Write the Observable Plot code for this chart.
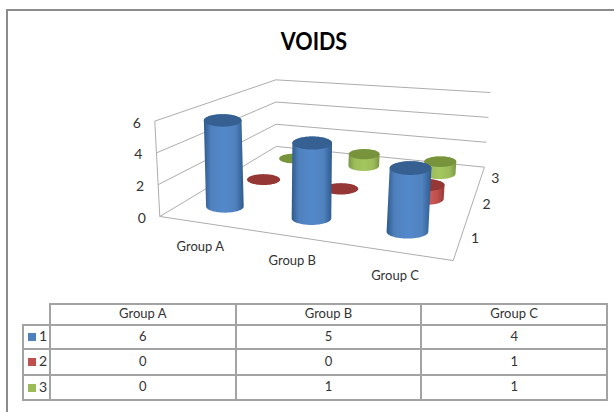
<!DOCTYPE html>
<html>
<head>
<meta charset="utf-8">
<script src="https://cdn.jsdelivr.net/npm/d3@7"></script>
<script src="https://cdn.jsdelivr.net/npm/@observablehq/plot@0.6"></script>
<style>
  html, body { margin: 0; background: #fff; overflow: hidden; }
  #page { position: relative; width: 614px; height: 412px; font-family: Lato, sans-serif; color: #333; }
  #frame { position: absolute; left: 6px; top: 9px; right: -4px; bottom: -4px; border: 2px solid #8c8c8c; }
  #title { position: absolute; left: 0; top: 25px; width: 628px; text-align: center; font-size: 25px; line-height: 30px; font-weight: 700; color: #000; transform: scaleX(0.86); transform-origin: 314px 0; }
  #plot { position: absolute; left: 0; top: 60px; }
  #data { position: absolute; left: 22px; top: 303px; width: 586px; border-collapse: collapse; table-layout: fixed; font-size: 13px; }
  #data td, #data th { border: 2px solid #a3a3a3; padding: 0 0 3px 0; box-sizing: border-box; text-align: center; font-weight: 400; }
  #data tr:nth-child(2) > * { height: 20px; }
  #data tr:nth-child(3) > * { height: 24px; }
  #data tr:nth-child(4) > * { height: 26px; }
  #data tr:nth-child(5) > * { height: 25px; }
  #data th.corner { border-left: none; border-top: none; }
  #data td.key { font-size: 14px; text-align: left; padding-left: 4px; white-space: nowrap; }
  #data .swatch { display: inline-block; width: 8px; height: 8px; margin-right: 3px; }
  #data col.first { width: 27px; }
</style>
</head>
<body>
<div id="page">
  <div id="frame"></div>
  <div id="title">VOIDS</div>
  <div id="plot"></div>
  <table id="data"></table>
</div>
<script>
// Chart values
const title = "VOIDS";
const groups = ["Group A", "Group B", "Group C"];
const seriesNames = ["1", "2", "3"];
const series1 = [6, 5, 4];
const series2 = [0, 0, 1];
const series3 = [0, 1, 1];
const valueTicks = [0, 2, 4, 6];
const allSeries = [series1, series2, series3];

// Series colours: side highlight, side shadow, top cap
const palette = [
  {key: "#4f81bd", light: "#5389cb", dark: "#2e5a8e", top: "#376092"},
  {key: "#c0504d", light: "#d0605c", dark: "#963b39", top: "#953735"},
  {key: "#9bbb59", light: "#a4c760", dark: "#7a9645", top: "#77933c"}
];

// Perspective box: u runs along the groups, v runs back through the series, value goes up
const H = {a: 223.7, b: 235.5, c: 159.3, d: 4, e: -7, f: 216, g: -0.154, h: 0.432};
const wallUnit = 15.9;
const columnUnit = 15;
const columnShift = -1;
const radius = 19.7;
const squash = 0.33;
const maxValue = 6;

const uOf = (i) => (i + 0.5) / groups.length;
const vOf = (j) => (j + 0.5) / seriesNames.length;
const depthScale = (u, v) => 1 / (H.g * u + H.h * v + 1);

function project(u, v, value, unit = wallUnit) {
  const w = depthScale(u, v);
  const x0 = (H.a * u + H.b * v + H.c) * w;
  const y0 = (H.d * u + H.e * v + H.f) * w;
  const rise = value * unit * w;
  const lean = (x0 - 288) * 0.000408;
  return {x: x0 + rise * lean, y: y0 - rise};
}

// Outlines for one cylinder: the side wall and the top cap
function cylinder(i, j, value) {
  const u = uOf(i), v = vOf(j), w = depthScale(u, v);
  const rx = radius * w, ry = rx * squash;
  const base = project(u, v, 0), cap = project(u, v, value, columnUnit);
  const n = 48;
  const side = [], top = [];
  for (let k = 0; k <= n; ++k) {
    const t = Math.PI * k / n;
    side.push({x: base.x + columnShift - rx * Math.cos(t), y: base.y + ry * Math.sin(t)});
  }
  for (let k = 0; k <= n; ++k) {
    const t = Math.PI * k / n;
    side.push({x: cap.x + columnShift + rx * Math.cos(t), y: cap.y - ry * Math.sin(t)});
  }
  for (let k = 0; k <= 2 * n; ++k) {
    const t = Math.PI * k / n;
    top.push({x: cap.x + columnShift + rx * Math.cos(t), y: cap.y + ry * Math.sin(t)});
  }
  return {side, top};
}

// Horizontal shading that makes the side walls look round
const gradients = () => {
  const ns = "http://www.w3.org/2000/svg";
  const defs = document.createElementNS(ns, "defs");
  palette.forEach((c, j) => {
    const g = document.createElementNS(ns, "linearGradient");
    g.setAttribute("id", `side${j}`);
    [[0, c.dark], [0.18, c.key], [0.5, c.light], [0.8, c.key], [1, c.dark]].forEach(([o, col]) => {
      const s = document.createElementNS(ns, "stop");
      s.setAttribute("offset", o);
      s.setAttribute("stop-color", col);
      g.appendChild(s);
    });
    defs.appendChild(g);
  });
  return defs;
};

// Walls and floor
const link = (a, b) => ({x1: a.x, y1: a.y, x2: b.x, y2: b.y});
const frameLinks = [
  link(project(0, 0, 0), project(1, 0, 0)),
  link(project(1, 0, 0), project(1, 1, 0)),
  link(project(0, 0, 0), project(0, 0, maxValue))
];
for (const t of valueTicks) {
  frameLinks.push(link(project(0, 0, t), project(0, 1, t)));
  frameLinks.push(link(project(0, 1, t), project(1, 1, t)));
}

// Columns, painted from the back row to the front row
const columns = [];
for (let j = seriesNames.length - 1; j >= 0; --j) {
  groups.forEach((_, i) => {
    const value = allSeries[j][i];
    const {side, top} = cylinder(i, j, value);
    if (value > 0) {
      columns.push(Plot.line(side, {x: "x", y: "y", stroke: "none", fill: `url(#side${j})`}));
    }
    columns.push(Plot.line(top, {x: "x", y: "y", stroke: "none", fill: palette[j].top}));
  });
}

const chart = Plot.plot({
  width: 614,
  height: 240,
  margin: 0,
  x: {domain: [0, 614], range: [0, 614], axis: null},
  y: {domain: [60, 300], range: [0, 240], axis: null},
  style: {fontFamily: "Lato, sans-serif", background: "transparent"},
  marks: [
    gradients,
    Plot.link(frameLinks, {x1: "x1", y1: "y1", x2: "x2", y2: "y2", stroke: "#adadad", strokeWidth: 1}),
    ...columns,
    Plot.text(valueTicks, {
      x: (t) => project(0, 0, t).x, y: (t) => project(0, 0, t).y, text: (t) => `${t}`,
      textAnchor: "end", dx: -14, dy: 2, fontSize: 14, fill: "#333"
    }),
    Plot.text(groups, {
      x: (_, i) => project(uOf(i), 0, 0).x, y: (_, i) => project(uOf(i), 0, 0).y, text: (d) => d,
      dx: -2, dy: 24, fontSize: 13, fill: "#333"
    }),
    Plot.text(seriesNames, {
      x: (_, j) => project(1, vOf(j), 0).x, y: (_, j) => project(1, vOf(j), 0).y, text: (d) => d,
      dx: 14.5, dy: 0, fontSize: 14, fill: "#333"
    })
  ]
});
document.getElementById("plot").appendChild(chart);
document.getElementById("title").textContent = title;

// Data table under the chart
const table = d3.select("#data");
const colgroup = table.append("colgroup");
colgroup.append("col").attr("class", "first");
groups.forEach(() => colgroup.append("col"));
const head = table.append("tr");
head.append("th").attr("class", "corner");
groups.forEach((g) => head.append("th").text(g));
seriesNames.forEach((name, j) => {
  const row = table.append("tr");
  const key = row.append("td").attr("class", "key");
  key.append("span").attr("class", "swatch").style("background", palette[j].key);
  key.append("span").text(name);
  allSeries[j].forEach((v) => row.append("td").text(v));
});
</script>
</body>
</html>
